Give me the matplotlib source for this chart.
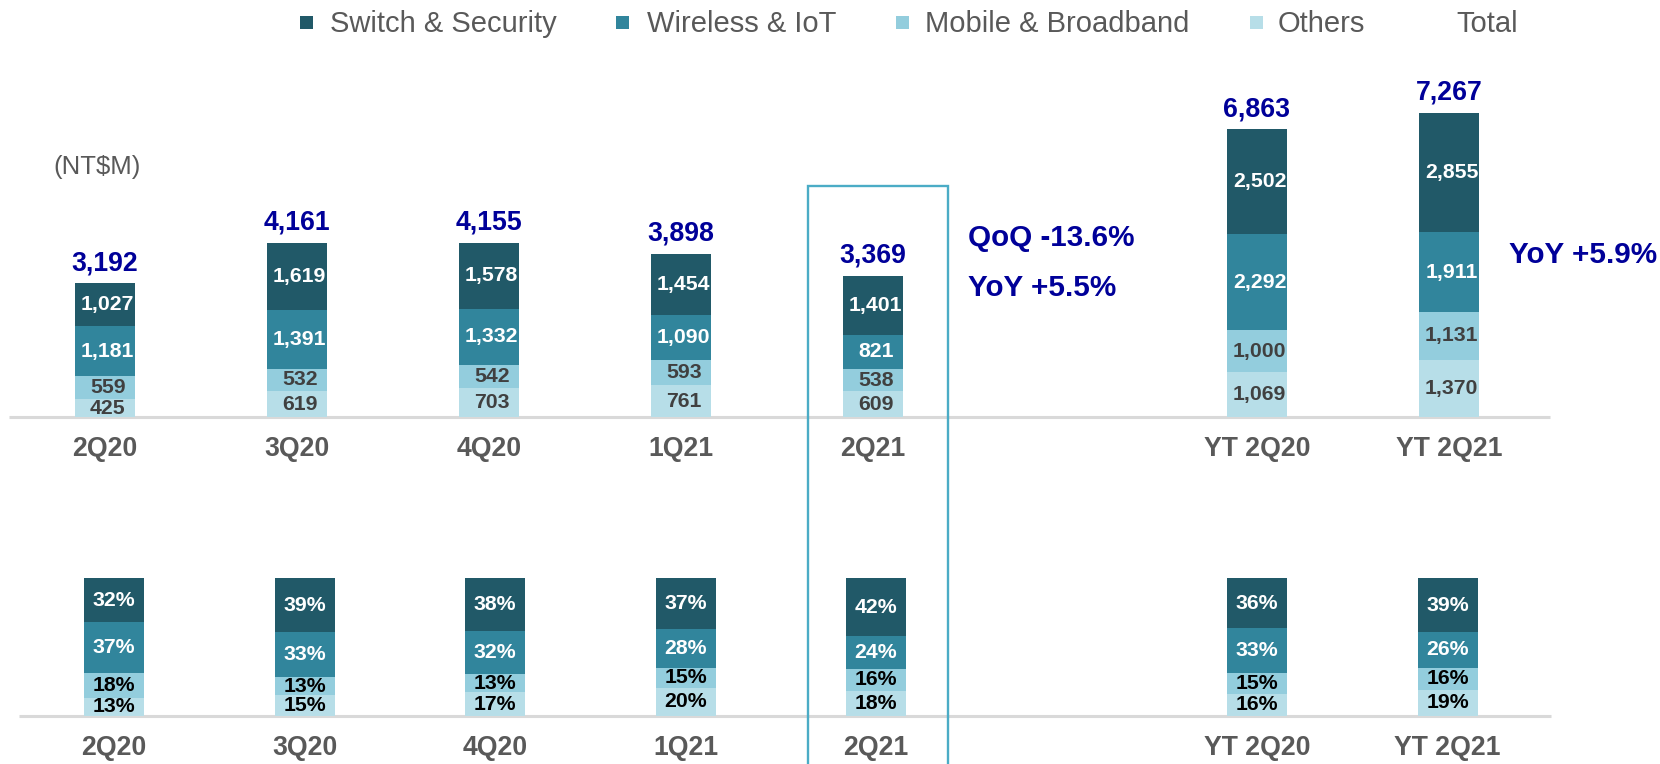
import matplotlib
matplotlib.use("Agg")
import matplotlib.pyplot as plt
from matplotlib.patches import Rectangle

plt.rcParams['font.family'] = ['Liberation Sans', 'DejaVu Sans']

# ---- data ----
categories = ['2Q20', '3Q20', '4Q20', '1Q21', '2Q21', 'YT 2Q20', 'YT 2Q21']
x_pos = [0, 1, 2, 3, 4, 6, 7]
switch = [1027, 1619, 1578, 1454, 1401, 2502, 2855]
wireless = [1181, 1391, 1332, 1090, 821, 2292, 1911]
mobile = [559, 532, 542, 593, 538, 1000, 1131]
others = [425, 619, 703, 761, 609, 1069, 1370]
totals = [3192, 4161, 4155, 3898, 3369, 6863, 7267]

switch_pct = [32, 39, 38, 37, 42, 36, 39]
wireless_pct = [37, 33, 32, 28, 24, 33, 26]
mobile_pct = [18, 13, 13, 15, 16, 15, 16]
others_pct = [13, 15, 17, 20, 18, 16, 19]

series_names = ['Switch & Security', 'Wireless & IoT', 'Mobile & Broadband', 'Others']
colors = ['#215968', '#31859C', '#93CDDD', '#B7DEE8']
label_colors_top = ['white', 'white', '#404040', '#404040']
label_colors_bot = ['white', 'white', 'black', 'black']
total_color = '#000099'
grey = '#595959'

W, H = 1660, 764
fig = plt.figure(figsize=(W / 100, H / 100), dpi=100)

# ---------- top panel (values) ----------
ax = fig.add_axes([0, 0, 1, 1])
ax.patch.set_alpha(0)
t_x0, t_dx = 105, 192.0
t_base, t_scale = 417, 0.0419
ax.set_xlim((0 - t_x0) / t_dx, (W - t_x0) / t_dx)
ax.set_ylim((t_base - H) / t_scale, t_base / t_scale)
ax.axis('off')

bw_top = 60 / t_dx
stack_top = [others, mobile, wireless, switch]
stack_cols = [colors[3], colors[2], colors[1], colors[0]]
stack_lab = [label_colors_top[3], label_colors_top[2], label_colors_top[1], label_colors_top[0]]
bottoms = [0] * len(x_pos)
for vals, col, lc in zip(stack_top, stack_cols, stack_lab):
    ax.bar(x_pos, vals, width=bw_top, bottom=bottoms, color=col, edgecolor='none', zorder=2)
    for xi, v, b in zip(x_pos, vals, bottoms):
        ax.text(xi + 0.014, b + v / 2, f"{v:,}", ha='center', va='center',
                fontsize=15.3, fontweight='bold', color=lc, zorder=3)
    bottoms = [b + v for b, v in zip(bottoms, vals)]

for xi, t in zip(x_pos, totals):
    ax.annotate(f"{t:,}", xy=(xi, t), xytext=(0, 5), textcoords='offset points',
                ha='center', va='bottom', fontsize=19.2, fontweight='bold', color=total_color)

# baseline
ax.plot([(9 - t_x0) / t_dx, (1550 - t_x0) / t_dx], [0, 0], color='#D9D9D9', lw=2.2, zorder=1,
        solid_capstyle='butt')
for xi, c in zip(x_pos, categories):
    ax.text(xi, (t_base - 449) / t_scale, c, ha='center', va='center', fontsize=19.2,
            fontweight='bold', color=grey)

# ---------- bottom panel (shares) ----------
ax2 = fig.add_axes([0, 0, 1, 1])
ax2.patch.set_alpha(0)
b_x0, b_dx = 114, 190.5
b_base, b_scale = 715.7, 1.374
ax2.set_xlim((0 - b_x0) / b_dx, (W - b_x0) / b_dx)
ax2.set_ylim((b_base - H) / b_scale, b_base / b_scale)
ax2.axis('off')

bw_bot = 60 / b_dx
stack_bot = [others_pct, mobile_pct, wireless_pct, switch_pct]
stack_lab_b = [label_colors_bot[3], label_colors_bot[2], label_colors_bot[1], label_colors_bot[0]]
bottoms = [0] * len(x_pos)
for vals, col, lc in zip(stack_bot, stack_cols, stack_lab_b):
    ax2.bar(x_pos, vals, width=bw_bot, bottom=bottoms, color=col, edgecolor='none', zorder=2)
    for xi, v, b in zip(x_pos, vals, bottoms):
        ax2.text(xi, b + v / 2, f"{v}%", ha='center', va='center',
                 fontsize=15.3, fontweight='bold', color=lc, zorder=3)
    bottoms = [b + v for b, v in zip(bottoms, vals)]

ax2.plot([(19 - b_x0) / b_dx, (1551 - b_x0) / b_dx], [0, 0], color='#D9D9D9', lw=2.2, zorder=1,
         solid_capstyle='butt')
for xi, c in zip(x_pos, categories):
    ax2.text(xi, (b_base - 748) / b_scale, c, ha='center', va='center', fontsize=19.2,
             fontweight='bold', color=grey)

# ---------- highlight box around 2Q21 ----------
fig.patches.append(Rectangle((807.7 / W, -0.05), (948.3 - 807.7) / W, (H - 185.7) / H + 0.05,
                             transform=fig.transFigure, fill=False, edgecolor='#4BACC6',
                             lw=1.7, zorder=5))

# ---------- annotations ----------
def fy(py):
    return 1 - py / H

fig.text(53 / W, fy(167), '(NT$M)', ha='left', va='center', fontsize=18.5, color=grey)
fig.text(968 / W, fy(238), 'QoQ -13.6%', ha='left', va='center', fontsize=21.3,
         fontweight='bold', color=total_color)
fig.text(968 / W, fy(288), 'YoY +5.5%', ha='left', va='center', fontsize=21.3,
         fontweight='bold', color=total_color)
fig.text(1509 / W, fy(255), 'YoY +5.9%', ha='left', va='center', fontsize=21.3,
         fontweight='bold', color=total_color)

# ---------- legend ----------
leg_sq = [300, 616, 896, 1250, 1430]
leg_tx = [330, 647, 925, 1278, 1456]
leg_names = series_names + ['Total']
leg_cols = colors + ['white']
for sx, tx, name, col in zip(leg_sq, leg_tx, leg_names, leg_cols):
    fig.patches.append(Rectangle((sx / W, fy(29)), 13 / W, 13 / H, transform=fig.transFigure,
                                 facecolor=col, edgecolor='none'))
    fig.text(tx / W, fy(24), name, ha='left', va='center', fontsize=21, color=grey)

fig.savefig('out.png', dpi=100)
